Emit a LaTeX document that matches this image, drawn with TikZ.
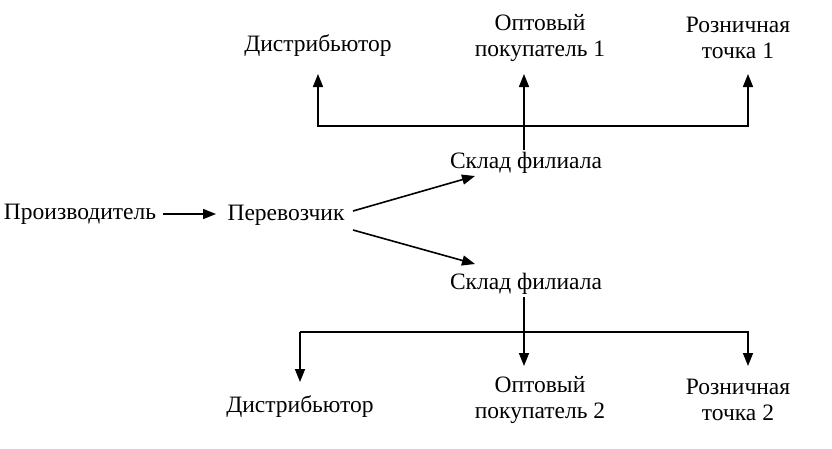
\documentclass[tikz,border=0pt]{standalone}
\usepackage{fontspec}
\setmainfont{Liberation Serif}
\usetikzlibrary{arrows.meta}
\begin{document}
\begin{tikzpicture}[x=1pt,y=-1pt,
  lbl/.style={inner sep=0pt, align=center, font=\fontsize{23.5}{26}\selectfont},
  conn/.style={line width=1.6pt},
  arr/.style={conn, -{Triangle[width=10pt,length=13pt]}}]
\useasboundingbox (0,0) rectangle (832,448);
% nodes
\node[lbl] (prod) at (80,214) {Производитель};
\node[lbl] (per) at (286,215) {Перевозчик};
\node[lbl] (s1) at (526,163) {Склад филиала};
\node[lbl] (s2) at (526,284) {Склад филиала};
\node[lbl] (d1) at (318,46) {Дистрибьютор};
\node[lbl] (o1) at (540,38) {Оптовый\\покупатель 1};
\node[lbl] (r1) at (738,38) {Розничная\\точка 1};
\node[lbl] (d2) at (300,407) {Дистрибьютор};
\node[lbl] (o2) at (540,400) {Оптовый\\покупатель 2};
\node[lbl] (r2) at (738,400) {Розничная\\точка 2};
% coordinates
\coordinate (pa) at (163,214);
\coordinate (pb) at (216,214);
\coordinate (ta) at (353,211);
\coordinate (tb) at (475,176);
\coordinate (tc) at (353,230);
\coordinate (td) at (475,264);
\coordinate (s1t) at (524,150);
\coordinate (h1l) at (318,126);
\coordinate (h1r) at (748,126);
\coordinate (d1a) at (318,74);
\coordinate (o1a) at (524,74);
\coordinate (r1a) at (748,74);
\coordinate (s2b) at (524,297);
\coordinate (h2l) at (300,332);
\coordinate (h2r) at (748,332);
\coordinate (d2a) at (300,382);
\coordinate (o2a) at (524,366);
\coordinate (r2a) at (748,366);
% connectors
\draw[arr] (pa) -- (pb);
\draw[arr] (ta) -- (tb);
\draw[arr] (tc) -- (td);
\draw[arr] (s1t) -- (o1a);
\draw[arr] (h1l) -- (h1r) -- (r1a);
\draw[arr] (h1r) -- (h1l) -- (d1a);
\draw[arr] (s2b) -- (o2a);
\draw[arr] (h2l) -- (d2a);
\draw[arr] (h2l) -- (h2r) -- (r2a);
\end{tikzpicture}
\end{document}
